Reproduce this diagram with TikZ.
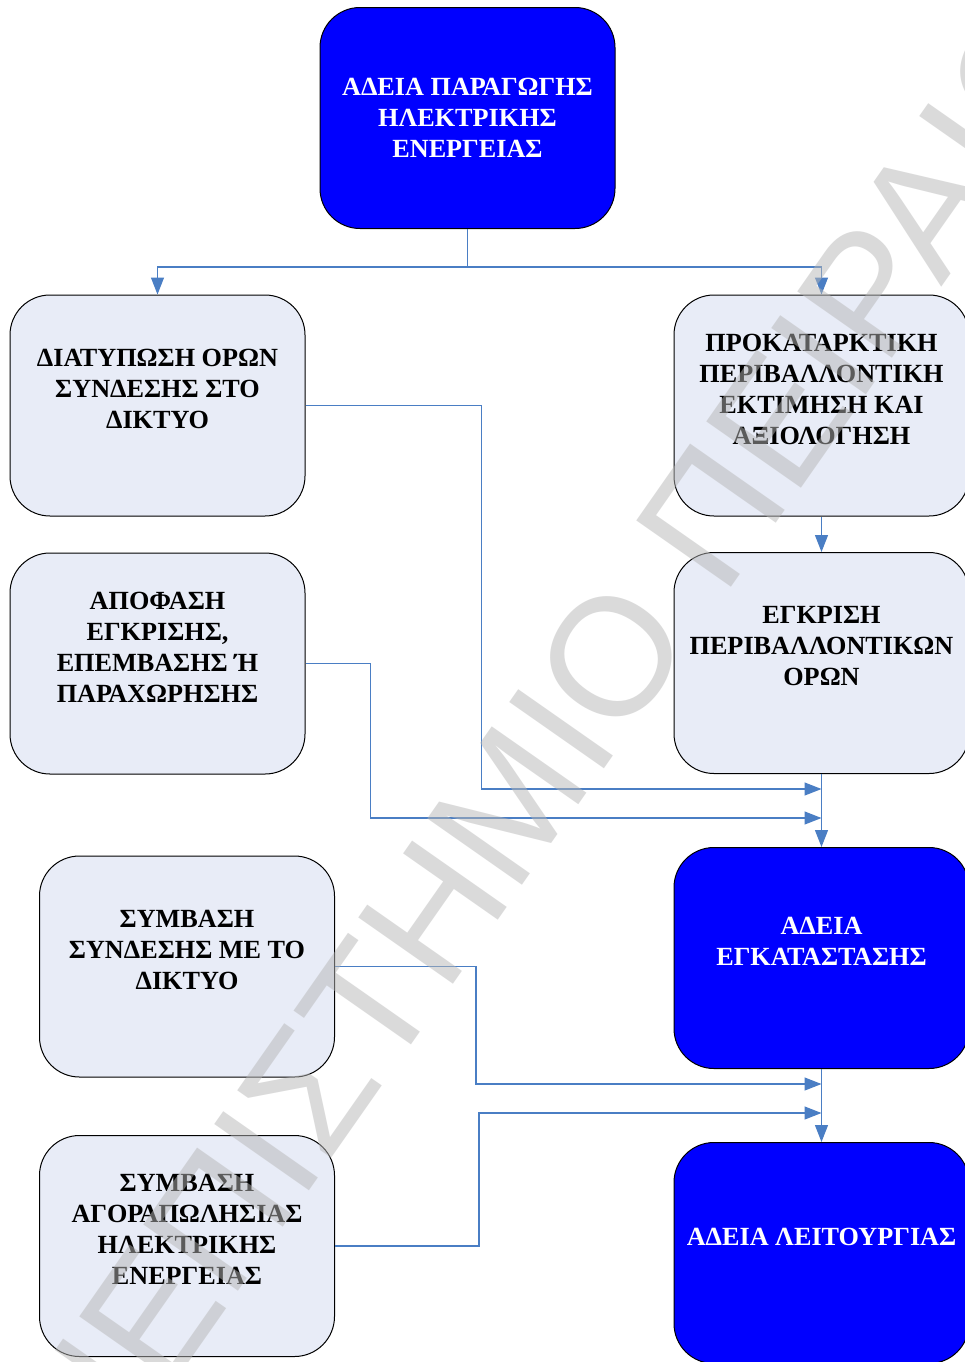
\documentclass[tikz,border=0pt]{standalone}
\usepackage{fontspec}
\setmainfont{Liberation Serif}
\newfontfamily\wmfont{Liberation Sans}
\usetikzlibrary{arrows.meta,positioning,calc}
\definecolor{mBlue}{HTML}{0000FF}
\definecolor{mPale}{HTML}{E8ECF7}
\definecolor{mLink}{HTML}{4A7EC4}
\definecolor{mMark}{HTML}{B6B6B6}

\tikzset{
  stagebox/.style={draw=black,line width=0.5pt,rounded corners=20pt,
    minimum width=147.5pt,minimum height=110.5pt,inner sep=0pt},
  palebox/.style={stagebox,fill=mPale},
  bluebox/.style={stagebox,fill=mBlue},
  boxtext/.style={align=center,inner sep=0pt,
    font=\bfseries\fontsize{13.1}{15.5}\selectfont},
  whitetext/.style={boxtext,text=white},
  link/.style={draw=mLink,line width=0.6pt},
  wmark/.style={rotate=55,text=mMark,text opacity=0.5,inner sep=0pt,
    font=\wmfont\fontsize{84}{84}\selectfont}
}

\begin{document}
\begin{tikzpicture}[x=0.5pt,y=-0.5pt,>={Triangle[length=8.5pt,width=6.5pt]}]
  \path[use as bounding box,fill=white] (0,0) rectangle (965,1362);

  % top licence
  \node[bluebox] (prod) at (467.5,118) {};
  \node[whitetext] (prod-t) at (prod) {ΑΔΕΙΑ ΠΑΡΑΓΩΓΗΣ\\ΗΛΕΚΤΡΙΚΗΣ\\ΕΝΕΡΓΕΙΑΣ};

  % left column
  \node[palebox] (terms) at (157.5,405.5) {};
  \node[boxtext] (terms-t) at ($(terms)+(0,-16.5)$) {ΔΙΑΤΥΠΩΣΗ ΟΡΩΝ\\ΣΥΝΔΕΣΗΣ ΣΤΟ\\ΔΙΚΤΥΟ};
  \node[palebox] (grant) at (157.5,663.5) {};
  \node[boxtext] (grant-t) at ($(grant)+(0,-16.5)$) {ΑΠΟΦΑΣΗ\\ΕΓΚΡΙΣΗΣ,\\ΕΠΕΜΒΑΣΗΣ Ή\\ΠΑΡΑΧΩΡΗΣΗΣ};
  \node[palebox] (conn) at (187,966.5) {};
  \node[boxtext] (conn-t) at ($(conn)+(0,-16.5)$) {ΣΥΜΒΑΣΗ\\ΣΥΝΔΕΣΗΣ ΜΕ ΤΟ\\ΔΙΚΤΥΟ};
  \node[palebox] (sale) at (187,1246) {};
  \node[boxtext] (sale-t) at ($(sale)+(0,-16.5)$) {ΣΥΜΒΑΣΗ\\ΑΓΟΡΑΠΩΛΗΣΙΑΣ\\ΗΛΕΚΤΡΙΚΗΣ\\ΕΝΕΡΓΕΙΑΣ};

  % right column
  \node[palebox] (envest) at (821.5,405.5) {};
  \node[boxtext] (envest-t) at ($(envest)+(0,-16.5)$) {ΠΡΟΚΑΤΑΡΚΤΙΚΗ\\ΠΕΡΙΒΑΛΛΟΝΤΙΚΗ\\ΕΚΤΙΜΗΣΗ ΚΑΙ\\ΑΞΙΟΛΟΓΗΣΗ};
  \node[palebox] (envok) at (821.5,663) {};
  \node[boxtext] (envok-t) at ($(envok)+(0,-16.5)$) {ΕΓΚΡΙΣΗ\\ΠΕΡΙΒΑΛΛΟΝΤΙΚΩΝ\\ΟΡΩΝ};
  \node[bluebox] (inst) at (821.5,958) {};
  \node[whitetext] (inst-t) at ($(inst)+(0,-16.5)$) {ΑΔΕΙΑ\\ΕΓΚΑΤΑΣΤΑΣΗΣ};
  \node[bluebox] (oper) at (821.5,1253) {};
  \node[whitetext] (oper-t) at ($(oper)+(0,-16.5)$) {ΑΔΕΙΑ ΛΕΙΤΟΥΡΓΙΑΣ};

  % split below the top box
  \coordinate (split) at (467.5,267);
  \draw[link] (prod.south) -- (split);
  \draw[link,->] (split) -| (terms.north);
  \draw[link,->] (split) -| (envest.north);

  % right column chain
  \draw[link,->] (envest.south) -- (envok.north);
  \draw[link,->] (envok.south) -- (inst.north);
  \draw[link,->] (inst.south) -- (oper.north);

  % feeds into the chain
  \coordinate (in1) at (821.5,789);
  \coordinate (in2) at (821.5,818);
  \coordinate (in3) at (821.5,1084);
  \coordinate (in4) at (821.5,1113);
  \draw[link,->] (terms.east) -- ++(176,0) |- (in1);
  \draw[link,->] (grant.east) -- ++(65,0) |- (in2);
  \draw[link,->] (conn.east) -- ++(141,0) |- (in3);
  \draw[link,->] (sale.east) -- ++(144,0) |- (in4);

  % watermark
  \node[wmark] (mark) at (516,794) {ΠΑΝΕΠΙΣΤΗΜΙΟ ΠΕΙΡΑΙΩΣ};
\end{tikzpicture}
\end{document}
